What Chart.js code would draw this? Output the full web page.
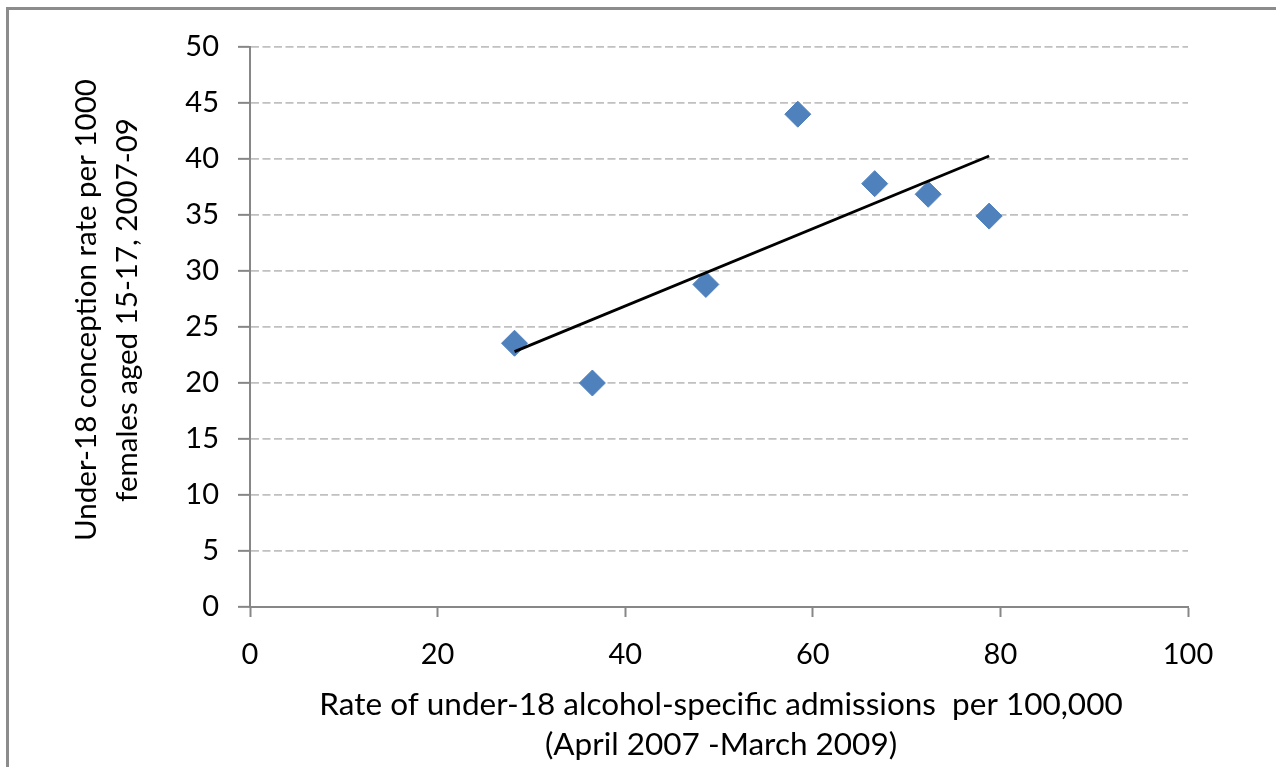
<!DOCTYPE html>
<html lang="en">
<head>
  <meta charset="UTF-8" />
  <title>Alcohol admissions vs conception rate</title>
  <script src="https://cdn.jsdelivr.net/npm/chart.js"></script>
  <style>
    body {
      margin: 0;
      background: #ffffff;
      overflow: hidden;
    }
    .frame {
      position: absolute;
      left: 6px;
      top: 7px;
      width: 1400px;
      height: 900px;
      border: 3px solid #8c8c8c;
    }
    .wrap {
      position: absolute;
      left: 0;
      top: 0;
      width: 1276px;
      height: 767px;
    }
  </style>
</head>
<body>
  <div class="frame"></div>
  <div class="wrap"><canvas id="chart"></canvas></div>

  <script>
    // alcohol-specific admissions per 100,000 (x) vs conception rate per 1000 (y)
    const admissionRate = [28.2, 36.5, 48.6, 58.4, 66.6, 72.3, 78.8];
    const conceptionRate = [23.55, 20.0, 28.8, 44.0, 37.8, 36.85, 34.9];

    const xTitle = ["Rate of under-18 alcohol-specific admissions  per 100,000", "(April 2007 -March 2009)"];
    const yTitle = ["Under-18 conception rate per 1000", "females aged 15-17, 2007-09"];

    const fontFamily = "Lato, 'DejaVu Sans', sans-serif";

    // linear trend line (least squares), like Excel
    function trendLine(xs, ys) {
      const n = xs.length;
      const mx = xs.reduce((a, b) => a + b, 0) / n;
      const my = ys.reduce((a, b) => a + b, 0) / n;
      let sxy = 0, sxx = 0;
      for (let i = 0; i < n; i++) {
        sxy += (xs[i] - mx) * (ys[i] - my);
        sxx += (xs[i] - mx) * (xs[i] - mx);
      }
      const slope = sxy / sxx;
      const b = my - slope * mx;
      const x0 = Math.min(...xs), x1 = Math.max(...xs);
      return [{ x: x0, y: slope * x0 + b }, { x: x1, y: slope * x1 + b }];
    }

    const points = admissionRate.map((x, i) => ({ x: x, y: conceptionRate[i] }));

    const axisTitles = {
      id: "axisTitles",
      afterDraw(chart) {
        const ctx = chart.ctx;
        const area = chart.chartArea;
        ctx.save();
        ctx.fillStyle = "#000";
        ctx.textAlign = "center";
        ctx.textBaseline = "middle";
        // x title
        ctx.font = "31.5px " + fontFamily;
        const cx = (area.left + area.right) / 2 + 2;
        ctx.fillText(xTitle[0], cx, 705);
        ctx.fillText(xTitle[1], cx, 745);
        // y title
        ctx.font = "29.5px " + fontFamily;
        ctx.translate(0, 310);
        ctx.rotate(-Math.PI / 2);
        ctx.fillText(yTitle[0], 0, 86);
        ctx.fillText(yTitle[1], 0, 127);
        ctx.restore();
      }
    };

    new Chart(document.getElementById("chart"), {
      type: "scatter",
      data: {
        datasets: [
          {
            label: "Authorities",
            data: points,
            pointStyle: "rectRot",
            pointRadius: 13,
            pointHoverRadius: 13,
            backgroundColor: "#4f81bd",
            borderColor: "#4f81bd",
            borderWidth: 1,
            order: 1
          },
          {
            label: "Trend",
            data: trendLine(admissionRate, conceptionRate),
            showLine: true,
            borderColor: "#000000",
            borderWidth: 2.8,
            pointRadius: 0,
            fill: false,
            order: 0
          }
        ]
      },
      options: {
        responsive: true,
        maintainAspectRatio: false,
        animation: false,
        layout: { padding: { top: 47, right: 88, bottom: 0, left: 0 } },
        plugins: {
          legend: { display: false },
          tooltip: { enabled: false }
        },
        scales: {
          x: {
            type: "linear",
            min: 0,
            max: 100,
            afterFit(scale) { scale.height = 160; },
            ticks: {
              stepSize: 20,
              color: "#000",
              padding: 20,
              font: { family: fontFamily, size: 29 }
            },
            grid: {
              drawOnChartArea: false,
              drawTicks: true,
              tickLength: 10,
              tickColor: "#878787",
              tickWidth: 2
            },
            border: { color: "#878787", width: 2 }
          },
          y: {
            min: 0,
            max: 50,
            afterFit(scale) { scale.width = 250; },
            ticks: {
              stepSize: 5,
              color: "#000",
              padding: 19,
              font: { family: fontFamily, size: 29 }
            },
            grid: {
              color: "#c0c0c0",
              lineWidth: 1.7,
              tickLength: 12,
              tickColor: "#878787",
              tickWidth: 2,
              tickBorderDash: []
            },
            border: { color: "#878787", width: 2, dash: [8, 3.5] }
          }
        }
      },
      plugins: [axisTitles]
    });
  </script>
</body>
</html>
